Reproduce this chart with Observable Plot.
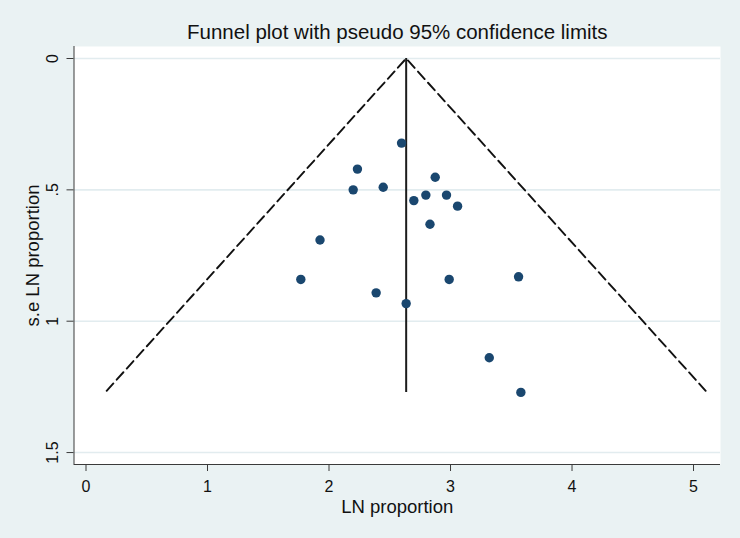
<!DOCTYPE html>
<html>
<head>
<meta charset="utf-8">
<script src="https://cdn.jsdelivr.net/npm/d3@7"></script>
<script src="https://cdn.jsdelivr.net/npm/@observablehq/plot@0.6"></script>
<style>
  html, body { margin: 0; padding: 0; background: #eaf2f3; }
  #chart svg { display: block; }
</style>
</head>
<body>
<div id="chart"></div>
<script>
// Study estimates (LN proportion) and their standard errors
const lnProportion   = [2.597, 2.234, 2.199, 2.446, 2.874, 2.698, 2.797, 2.967, 3.058, 2.831, 1.926, 1.768, 2.388, 2.635, 2.989, 3.560, 3.319, 3.579];
const seLnProportion = [0.322, 0.421, 0.500, 0.490, 0.452, 0.541, 0.520, 0.520, 0.562, 0.631, 0.691, 0.841, 0.892, 0.933, 0.841, 0.831, 1.139, 1.271];

// Pooled estimate line and pseudo 95% confidence limits (funnel endpoints)
const pooledEstimate = 2.635;
const pooledSeRange = [0, 1.271];
const funnelX  = [0.17, 2.635, 5.10];
const funnelSe = [1.265, 0, 1.265];

// Axes
const xTicks = [0, 1, 2, 3, 4, 5];
const xTickLabels = ["0", "1", "2", "3", "4", "5"];
const yTicks = [0, 0.5, 1, 1.5];
const yTickLabels = ["0", ".5", "1", "1.5"];
const xDomain = [-0.0988, 5.222];
const yDomain = [-0.0457, 1.5455];

const titleText = "Funnel plot with pseudo 95% confidence limits";
const xLabel = "LN proportion";
const yLabel = "s.e LN proportion";

const studies = lnProportion.map((x, i) => ({x, se: seLnProportion[i]}));
const funnel = funnelX.map((x, i) => ({x, se: funnelSe[i]}));

const font = "'Liberation Sans', Arial, Helvetica, sans-serif";
const axisColor = "#3a3a3a";
const tickFont = 16;

const chart = Plot.plot({
  width: 740,
  height: 538,
  marginLeft: 73.5,
  marginRight: 20,
  marginTop: 46,
  marginBottom: 74,
  style: {background: "#eaf2f3", fontFamily: font, color: "#111", overflow: "visible"},
  x: {domain: xDomain},
  y: {domain: yDomain, reverse: true},
  marks: [
    Plot.frame({fill: "white", stroke: null}),
    Plot.gridY({ticks: yTicks, stroke: "#e2ecef", strokeOpacity: 1, strokeWidth: 1.6}),
    Plot.ruleX([pooledEstimate], {y1: pooledSeRange[0], y2: pooledSeRange[1], stroke: "#1c1c1c", strokeWidth: 2}),
    Plot.line(funnel, {x: "x", y: "se", stroke: "#111", strokeWidth: 1.9, strokeDasharray: "10,5"}),
    Plot.dot(studies, {x: "x", y: "se", r: 4.7, fill: "#1a476f", stroke: null}),
    Plot.ruleX([xDomain[0]], {stroke: axisColor, strokeWidth: 1}),
    Plot.ruleY([yDomain[1]], {stroke: axisColor, strokeWidth: 1}),
    Plot.axisX({ticks: xTicks, tickSize: 7, tickFormat: () => "", label: null, stroke: axisColor}),
    Plot.axisY({ticks: yTicks, tickSize: 7, tickFormat: () => "", label: null, stroke: axisColor}),
    Plot.text(xTicks, {x: d => d, text: (d, i) => xTickLabels[i], frameAnchor: "bottom", textAnchor: "middle", lineAnchor: "bottom", dy: 27.5, fontSize: tickFont, fill: "#111"}),
    Plot.text(yTicks, {y: d => d, text: (d, i) => yTickLabels[i], frameAnchor: "left", textAnchor: "middle", dx: -16.5, rotate: -90, lineAnchor: "bottom", fontSize: tickFont, fill: "#111"}),
    Plot.text([titleText], {frameAnchor: "top", textAnchor: "middle", lineAnchor: "bottom", dy: -7.7, fontSize: 20.5, fill: "#111"}),
    Plot.text([xLabel], {frameAnchor: "bottom", textAnchor: "middle", lineAnchor: "bottom", dy: 48, fontSize: 18.5, fill: "#111"}),
    Plot.text([yLabel], {frameAnchor: "left", textAnchor: "middle", lineAnchor: "bottom", dx: -35.2, rotate: -90, fontSize: 18.5, fill: "#111"})
  ]
});

document.getElementById("chart").appendChild(chart);
</script>
</body>
</html>
